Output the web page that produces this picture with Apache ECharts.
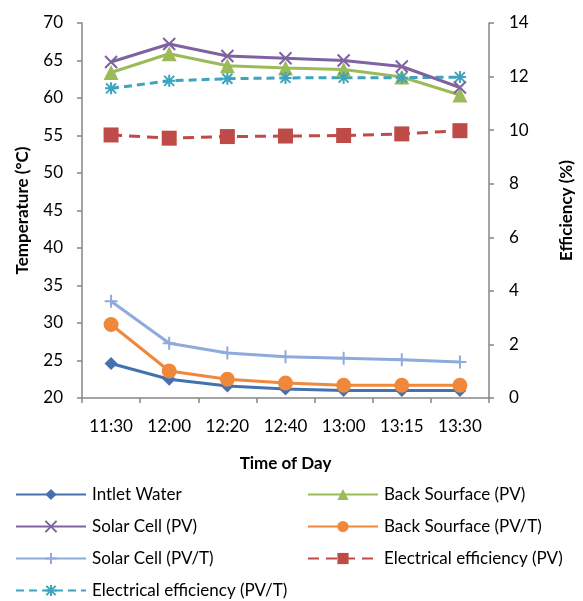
<!DOCTYPE html>
<html>
<head>
<meta charset="utf-8">
<script src="https://cdn.jsdelivr.net/npm/echarts@6/dist/echarts.min.js"></script>
<style>
  html, body { margin: 0; padding: 0; background: #fff; }
  #chart { width: 583px; height: 601px; }
</style>
</head>
<body>
<div id="chart"></div>
<script>
// Time of day categories
const times = ['11:30', '12:00', '12:20', '12:40', '13:00', '13:15', '13:30'];

// Temperatures (°C), left axis
const intletWater     = [24.6, 22.5, 21.6, 21.2, 21.0, 21.0, 21.0];
const backSurfacePV   = [63.4, 65.9, 64.3, 64.0, 63.8, 62.8, 60.4];
const solarCellPV     = [64.8, 67.2, 65.6, 65.3, 65.0, 64.2, 61.4];
const backSurfacePVT  = [29.8, 23.6, 22.5, 22.0, 21.7, 21.7, 21.7];
const solarCellPVT    = [32.9, 27.3, 26.0, 25.5, 25.3, 25.1, 24.8];

// Electrical efficiency (%), right axis
const effPV  = [9.82, 9.70, 9.76, 9.78, 9.80, 9.86, 9.98];
const effPVT = [11.56, 11.84, 11.92, 11.95, 11.96, 11.96, 11.98];

// Axis ranges
const tempMin = 20, tempMax = 70, tempStep = 5;
const effMin = 0, effMax = 14, effStep = 2;

const FONT = 'Lato, "Liberation Sans", Arial, sans-serif';
const AXIS_GRAY = '#868686';

const xMark  = 'path://M0,0L10,10M10,0L0,10';
const plus   = 'path://M5,0L5,10M0,5L10,5';
const aster  = 'path://M0,0L10,10M10,0L0,10M5,-1L5,11M-1,5L11,5';

function lineSeries(name, data, color, symbol, size, opts) {
  opts = opts || {};
  const stroked = opts.stroked;
  return {
    name: name,
    type: 'line',
    data: data,
    yAxisIndex: opts.yAxisIndex || 0,
    symbol: symbol,
    symbolSize: size,
    showAllSymbol: true,
    z: opts.z || 2,
    lineStyle: { color: color, width: 3, type: opts.dash || 'solid' },
    itemStyle: stroked
      ? { color: color, borderColor: color, borderWidth: 2 }
      : { color: color, borderWidth: 0 },
    emphasis: { disabled: true },
    animation: false
  };
}

const series = [
  lineSeries('Intlet Water', intletWater, '#4472B0', 'diamond', 13),
  lineSeries('Back Sourface (PV)', backSurfacePV, '#9BBB59', 'triangle', 15),
  lineSeries('Solar Cell (PV)', solarCellPV, '#7F63A0', xMark, 12, { stroked: true, z: 3 }),
  lineSeries('Back Sourface (PV/T)', backSurfacePVT, '#F0883C', 'circle', 15),
  lineSeries('Solar Cell (PV/T)', solarCellPVT, '#8FAADC', plus, 13, { stroked: true }),
  lineSeries('Electrical efficiency (PV)', effPV, '#BE4B48', 'rect', 15, { yAxisIndex: 1, dash: [11, 7] }),
  lineSeries('Electrical efficiency (PV/T)', effPVT, '#3DA3BE', aster, 12, { yAxisIndex: 1, dash: [8, 5], stroked: true })
];

// Legend laid out as two columns, row by row
const legendPos = [
  [15, 486], [307, 486],
  [15, 518], [307, 518],
  [15, 550], [307, 550],
  [15, 582]
];
const legends = series.map(function (s, i) {
  return {
    data: [s.name],
    left: legendPos[i][0],
    top: legendPos[i][1],
    itemWidth: 70,
    itemHeight: 14,
    itemGap: 0,
    padding: 0,
    selectedMode: false,
    textStyle: { fontFamily: FONT, fontSize: 17, color: '#000', padding: [0, 0, 0, 1] }
  };
});

const chart = echarts.init(document.getElementById('chart'), null, { renderer: 'canvas' });
chart.setOption({
  animation: false,
  backgroundColor: '#fff',
  grid: { left: 82, right: 78, top: 23, bottom: 203, containLabel: false },
  legend: legends,
  xAxis: {
    type: 'category',
    data: times,
    boundaryGap: true,
    name: 'Time of Day',
    nameLocation: 'middle',
    nameGap: 57,
    nameTextStyle: { fontFamily: FONT, fontSize: 17, fontWeight: 'bold', color: '#000' },
    axisLine: { lineStyle: { color: AXIS_GRAY, width: 1.5 } },
    axisTick: { show: true, length: 5, inside: false, alignWithLabel: false, lineStyle: { color: AXIS_GRAY, width: 1.5 } },
    axisLabel: { fontFamily: FONT, fontSize: 17, color: '#000', margin: 20 },
    splitLine: { show: false }
  },
  yAxis: [
    {
      type: 'value',
      min: tempMin, max: tempMax, interval: tempStep,
      name: 'Temperature (°C)',
      nameLocation: 'middle',
      nameGap: 51,
      nameRotate: 90,
      nameTextStyle: { fontFamily: FONT, fontSize: 17, fontWeight: 'bold', color: '#000' },
      axisLine: { show: true, lineStyle: { color: AXIS_GRAY, width: 1.5 } },
      axisTick: { show: true, length: 5, lineStyle: { color: AXIS_GRAY, width: 1.5 } },
      axisLabel: { fontFamily: FONT, fontSize: 17, color: '#000', margin: 19 },
      splitLine: { show: false }
    },
    {
      type: 'value',
      position: 'right',
      min: effMin, max: effMax, interval: effStep,
      name: 'Efficiency (%)',
      nameLocation: 'middle',
      nameGap: 69,
      nameRotate: 90,
      nameTextStyle: { fontFamily: FONT, fontSize: 17, fontWeight: 'bold', color: '#000' },
      axisLine: { show: true, lineStyle: { color: AXIS_GRAY, width: 1.5 } },
      axisTick: { show: true, length: 5, lineStyle: { color: AXIS_GRAY, width: 1.5 } },
      axisLabel: { fontFamily: FONT, fontSize: 17, color: '#000', margin: 20 },
      splitLine: { show: false }
    }
  ],
  series: series
});
</script>
</body>
</html>
